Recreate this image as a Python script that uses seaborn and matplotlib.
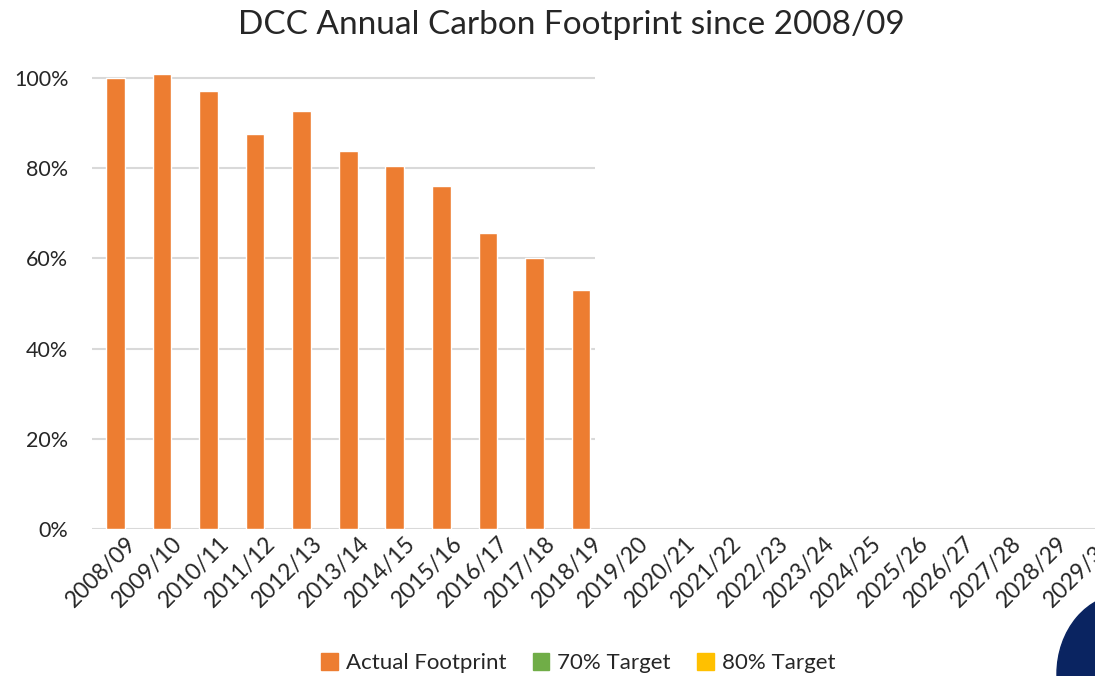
import numpy as np
import pandas as pd
import seaborn as sns
import matplotlib.pyplot as plt
import matplotlib.transforms as mtransforms
from matplotlib.patches import Patch, Ellipse

# Data
years = ['2008/09', '2009/10', '2010/11', '2011/12', '2012/13', '2013/14',
         '2014/15', '2015/16', '2016/17', '2017/18', '2018/19', '2019/20',
         '2020/21', '2021/22', '2022/23', '2023/24', '2024/25', '2025/26',
         '2026/27', '2027/28', '2028/29', '2029/30']
actual = [1.000, 1.009, 0.971, 0.876, 0.927, 0.838, 0.805, 0.761, 0.656,
          0.601, 0.530]
legend_labels = ['Actual Footprint', '70% Target', '80% Target']
legend_colors = ['#ED7D31', '#70AD47', '#FFC000']

values = actual + [np.nan] * (len(years) - len(actual))
df = pd.DataFrame({'Year': years, 'Footprint': values})

sns.set_style('white')
plt.rcParams['font.family'] = ['Lato', 'DejaVu Sans']

fig = plt.figure(figsize=(10.95, 6.76), dpi=100)
ax = fig.add_axes([0.084, 0.2175, 0.936, 0.6805])

sns.barplot(data=df, x='Year', y='Footprint', order=years, color='#ED7D31',
            width=0.4, saturation=1, ax=ax, zorder=3)

ax.set_xlim(-0.5, len(years) - 0.5)
ax.set_ylim(0, 1.02)
ax.set_yticks([0, 0.2, 0.4, 0.6, 0.8, 1.0])
ax.set_yticklabels(['0%', '20%', '40%', '60%', '80%', '100%'], fontsize=15.5)

# gridlines stop just after the last actual bar, the base line runs the full width
ax.hlines([0.2, 0.4, 0.6, 0.8, 1.0], -0.5, 10.3, color='#D9D9D9', lw=1.5, zorder=1)
ax.axhline(0, color='#D9D9D9', lw=1.5, zorder=1)

ax.set_xticks(range(len(years)))
ax.set_xticklabels(years, rotation=45, ha='right', rotation_mode='anchor', fontsize=16.5)
ax.tick_params(axis='x', length=0, pad=3)
ax.tick_params(axis='y', length=0, pad=17)
shift = mtransforms.ScaledTranslation(10 / 100, 0, fig.dpi_scale_trans)
for lab in ax.get_xticklabels():
    lab.set_transform(lab.get_transform() + shift)
ax.set_xlabel('')
ax.set_ylabel('')
for s in ax.spines.values():
    s.set_visible(False)

fig.suptitle('DCC Annual Carbon Footprint since 2008/09', fontsize=24, y=0.985,
             x=0.522, va='top')

handles = [Patch(color=c, label=l) for c, l in zip(legend_colors, legend_labels)]
fig.legend(handles=handles, loc='center', bbox_to_anchor=(0.528, 0.019), ncol=3,
           frameon=False, fontsize=16, handlelength=0.75, handleheight=0.75,
           handletextpad=0.35, columnspacing=1.2)

# navy blob in the bottom right corner
fig.patches.append(Ellipse((1125 / 1095, 2 / 676), 136 / 1095, 160 / 676,
                           transform=fig.transFigure, color='#0A2461', zorder=5))

fig.savefig('out.png', dpi=100)
